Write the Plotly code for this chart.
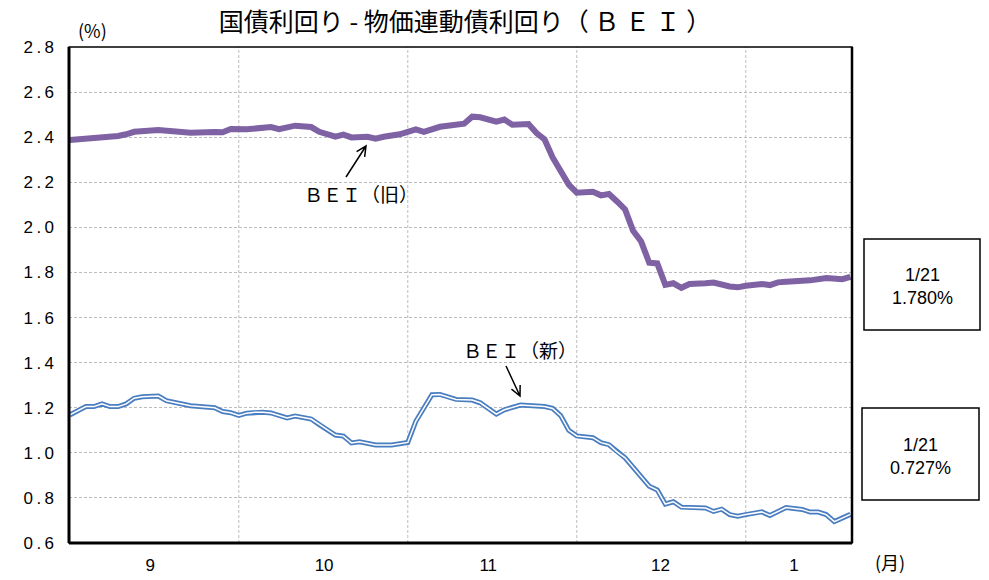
import math
import plotly.graph_objects as go

# ---- data (x = business-day index from start of September) ----
old_x = [0, 2, 3, 4, 6, 7, 8, 11, 13, 15, 18, 19, 20, 22, 25, 26, 28, 30, 31, 33, 34, 35, 37, 38, 39, 41,
         43, 44, 46, 48, 49, 50, 51, 53, 54, 55, 57, 58, 59, 60, 61, 62, 63, 65, 66, 67, 68, 69, 70, 71,
         72, 73, 74, 75, 76, 77, 79, 80, 82, 83, 84, 86, 87, 88, 89, 91, 92, 94, 95, 96, 97]
old_y = [2.388, 2.393, 2.398, 2.404, 2.405, 2.413, 2.424, 2.432, 2.427, 2.420, 2.423, 2.422, 2.436, 2.435,
         2.445, 2.436, 2.451, 2.445, 2.424, 2.402, 2.411, 2.399, 2.402, 2.393, 2.402, 2.413, 2.435, 2.424,
         2.446, 2.452, 2.460, 2.491, 2.488, 2.469, 2.478, 2.455, 2.458, 2.418, 2.390, 2.310, 2.250, 2.190,
         2.154, 2.158, 2.142, 2.148, 2.115, 2.080, 1.985, 1.937, 1.843, 1.840, 1.745, 1.752, 1.732, 1.749,
         1.752, 1.755, 1.738, 1.734, 1.741, 1.749, 1.744, 1.756, 1.759, 1.759, 1.765, 1.775, 1.775, 1.770,
         1.780]

new_x = [0, 1, 2, 3, 4, 5, 6, 7, 8, 9, 11, 12, 13, 15, 18, 19, 20, 21, 22, 23, 24, 25, 27, 28, 30, 31, 33,
         34, 35, 36, 38, 40, 41, 42, 43, 44, 45, 46, 48, 50, 51, 53, 54, 56, 59, 60, 61, 62, 63, 65, 66,
         67, 68, 69, 72, 73, 74, 75, 76, 77, 78, 79, 80, 81, 82, 83, 84, 85, 86, 87, 89, 91, 92, 93, 94,
         95, 96, 97]
new_y = [1.168, 1.185, 1.205, 1.205, 1.217, 1.205, 1.205, 1.217, 1.242, 1.249, 1.252, 1.231, 1.224, 1.209,
         1.200, 1.183, 1.178, 1.166, 1.176, 1.180, 1.180, 1.177, 1.155, 1.163, 1.150, 1.125, 1.079, 1.074,
         1.044, 1.049, 1.035, 1.035, 1.042, 1.046, 1.140, 1.200, 1.258, 1.259, 1.237, 1.234, 1.222, 1.172,
         1.191, 1.212, 1.205, 1.197, 1.165, 1.100, 1.075, 1.067, 1.045, 1.036, 1.004, 0.978, 0.852, 0.835,
         0.773, 0.783, 0.759, 0.758, 0.757, 0.755, 0.740, 0.750, 0.726, 0.719, 0.726, 0.733, 0.738, 0.722,
         0.757, 0.749, 0.737, 0.737, 0.726, 0.695, 0.710, 0.727]

month_labels = ["9", "10", "11", "12", "1"]
month_label_pos = [10.0, 31.6, 52.0, 73.4, 90.0]
month_bounds = [21, 42, 63, 84]
y_ticks = [0.6, 0.8, 1.0, 1.2, 1.4, 1.6, 1.8, 2.0, 2.2, 2.4, 2.6, 2.8]

X_RANGE = [-0.1, 97.2]
Y_RANGE = [0.6, 2.8]

FONT = "Liberation Sans, Arial, Noto Sans CJK JP"
JP = "Noto Sans CJK JP, Liberation Sans"
PURPLE = "#7f62a3"
BLUE = "#4a7ec0"
TS = "\u2009"  # thin space, mimics the spaced digits of the original

fig = go.Figure()
fig.add_trace(go.Scatter(x=old_x, y=old_y, mode="lines",
                         line=dict(color=PURPLE, width=6), hoverinfo="skip"))
fig.add_trace(go.Scatter(x=new_x, y=new_y, mode="lines",
                         line=dict(color=BLUE, width=5), hoverinfo="skip"))
fig.add_trace(go.Scatter(x=new_x, y=new_y, mode="lines",
                         line=dict(color="white", width=1.5), hoverinfo="skip"))

# month boundary gridlines
for b in month_bounds:
    fig.add_shape(type="line", xref="x", yref="paper", x0=b, x1=b, y0=0, y1=1,
                  line=dict(color="#bdbdbd", width=1, dash="3px,2px"), layer="below")

# plot frame
fig.add_shape(type="rect", xref="paper", yref="paper", x0=0, x1=1, y0=0, y1=1,
              line=dict(color="black", width=1.5))
fig.add_shape(type="line", xref="paper", yref="paper", x0=0, x1=0, y0=0, y1=1,
              line=dict(color="black", width=3))
fig.add_shape(type="line", xref="paper", yref="paper", x0=0, x1=1, y0=0, y1=0,
              line=dict(color="black", width=3))
fig.add_shape(type="line", xref="paper", yref="paper", x0=1, x1=1, y0=0, y1=1,
              line=dict(color="black", width=2.5))

# pixel helpers for annotation arrows
L, R, T, B = 69, 852, 47, 543
def px2x(px):
    return X_RANGE[0] + (px - L) / (R - L) * (X_RANGE[1] - X_RANGE[0])
def py2y(py):
    return Y_RANGE[1] - (py - T) / (B - T) * (Y_RANGE[1] - Y_RANGE[0])

def arrow(tx, ty, hx, hy, hl=11):
    ang = math.atan2(hy - ty, hx - tx)
    pts = []
    for d in (+0.45, -0.45):
        a = ang + math.pi + d
        pts.append((hx + hl * math.cos(a), hy + hl * math.sin(a)))
    path = (f"M {px2x(tx)},{py2y(ty)} L {px2x(hx)},{py2y(hy)} "
            f"M {px2x(pts[0][0])},{py2y(pts[0][1])} L {px2x(hx)},{py2y(hy)} "
            f"L {px2x(pts[1][0])},{py2y(pts[1][1])}")
    fig.add_shape(type="path", xref="x", yref="y", path=path,
                  line=dict(color="black", width=1.5))

arrow(346, 177, 366, 146)
arrow(506, 366, 520, 396)

fig.add_annotation(x=px2x(361), y=py2y(193), xref="x", yref="y", text="ＢＥＩ（旧）",
                   showarrow=False, xanchor="center", yanchor="middle",
                   font=dict(family=JP, size=19, color="black"))
fig.add_annotation(x=px2x(520), y=py2y(349), xref="x", yref="y", text="ＢＥＩ（新）",
                   showarrow=False, xanchor="center", yanchor="middle",
                   font=dict(family=JP, size=19, color="black"))

# value boxes
boxes = [(864, 980, 239, 330, "1/21<br>1.780%"), (862, 979, 408, 500, "1/21<br>0.727%")]
for x0, x1, y0, y1, txt in boxes:
    fig.add_shape(type="rect", xref="paper", yref="paper",
                  x0=(x0 - L) / (R - L), x1=(x1 - L) / (R - L),
                  y0=(B - y1) / (B - T), y1=(B - y0) / (B - T),
                  line=dict(color="black", width=1.5), fillcolor="white")
    fig.add_annotation(xref="paper", yref="paper",
                       x=((x0 + x1) / 2 - L) / (R - L), y=(B - (y0 + y1) / 2 - 2) / (B - T),
                       text=txt, showarrow=False, align="center",
                       xanchor="center", yanchor="middle",
                       font=dict(family=FONT, size=18, color="black"))

fig.add_annotation(xref="paper", yref="paper", x=(92 - L) / (R - L), y=(B - 30) / (B - T),
                   text="(%)", showarrow=False, xanchor="center", yanchor="middle",
                   font=dict(family=JP, size=18, color="black"))
fig.add_annotation(xref="paper", yref="paper", x=(890 - L) / (R - L), y=(B - 562) / (B - T),
                   text="(月)", showarrow=False, xanchor="center", yanchor="middle",
                   font=dict(family=JP, size=18, color="black"))

fig.update_layout(
    width=989, height=580,
    margin=dict(l=L, r=989 - R, t=T, b=580 - B, autoexpand=False),
    paper_bgcolor="white", plot_bgcolor="white",
    showlegend=False,
    title=dict(text="国債利回り - 物価連動債利回り（ Ｂ Ｅ Ｉ ）", x=465 / 989, xanchor="center",
               y=1 - 22 / 580, yanchor="middle", yref="container",
               font=dict(family=JP, size=25, color="black")),
    xaxis=dict(range=X_RANGE, showgrid=False, zeroline=False, showline=False,
               tickmode="array", tickvals=month_label_pos, ticktext=month_labels,
               ticks="", ticklabelstandoff=10, automargin=False,
               tickfont=dict(family=FONT, size=17, color="black")),
    yaxis=dict(range=Y_RANGE, tickmode="array", tickvals=y_ticks,
               ticktext=[f"{v:.1f}".replace(".", TS + "." + TS) for v in y_ticks],
               showgrid=True, gridcolor="#bdbdbd", griddash="3px,2px", gridwidth=1,
               zeroline=False, showline=False, ticks="", ticklabelstandoff=14,
               automargin=False,
               tickfont=dict(family=FONT, size=17, color="black")),
)

fig.write_html("out.html", config={"displayModeBar": False},
               post_script="document.body.style.margin='0';")
